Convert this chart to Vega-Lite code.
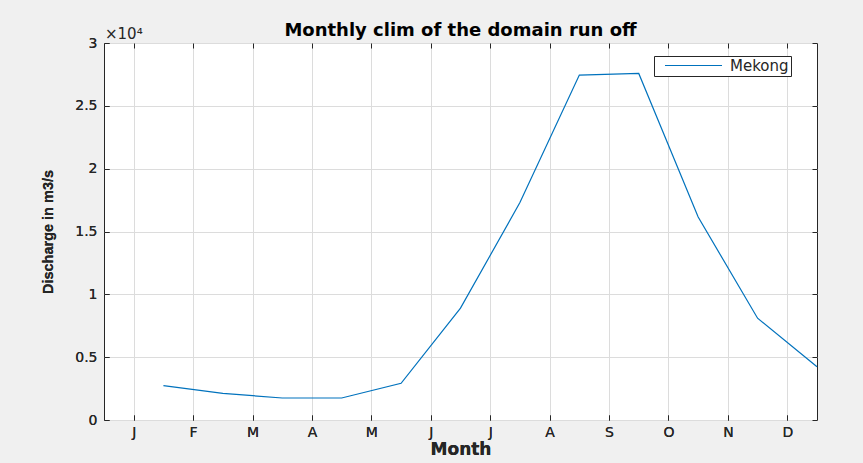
{
  "$schema": "https://vega.github.io/schema/vega-lite/v6.json",
  "width": 713,
  "height": 377,
  "autosize": {"type": "none"},
  "padding": {"left": 104, "top": 43, "right": 46, "bottom": 43},
  "background": "#f0f0f0",
  "title": {
    "text": "Monthly clim of the domain run off",
    "font": "DejaVu Sans",
    "fontSize": 18,
    "fontWeight": "bold",
    "color": "#000000",
    "anchor": "middle",
    "offset": -13
  },
  "encoding": {
    "x": {
      "field": "month",
      "type": "quantitative",
      "scale": {"domain": [0.5, 12.5], "nice": false, "zero": false},
      "axis": {
        "orient": "bottom",
        "values": [1, 2, 3, 4, 5, 6, 7, 8, 9, 10, 11, 12],
        "labelExpr": "['J','F','M','A','M','J','J','A','S','O','N','D'][datum.value - 1]",
        "title": "Month",
        "titleFont": "DejaVu Sans",
        "titleFontSize": 17,
        "titleFontWeight": "bold",
        "titlePadding": 2,
        "labelPadding": 10,
        "labelFlush": false
      }
    },
    "y": {
      "field": "discharge",
      "type": "quantitative",
      "scale": {"domain": [0, 30000], "nice": false},
      "axis": {
        "orient": "left",
        "values": [0, 5000, 10000, 15000, 20000, 25000, 30000],
        "labelExpr": "format(datum.value / 10000, '~g')",
        "title": "Discharge in m3/s",
        "titleFont": "Liberation Sans",
        "titleFontSize": 14.5,
        "titleFontWeight": "bold",
        "titlePadding": 19,
        "labelPadding": 12,
        "labelFlush": false
      }
    }
  },
  "layer": [
    {
      "data": {
        "values": [
          {"month": 1.5, "discharge": 2730, "river": "Mekong"},
          {"month": 2.5, "discharge": 2120, "river": "Mekong"},
          {"month": 3.5, "discharge": 1750, "river": "Mekong"},
          {"month": 4.5, "discharge": 1750, "river": "Mekong"},
          {"month": 5.5, "discharge": 2920, "river": "Mekong"},
          {"month": 6.5, "discharge": 8900, "river": "Mekong"},
          {"month": 7.5, "discharge": 17300, "river": "Mekong"},
          {"month": 8.5, "discharge": 27450, "river": "Mekong"},
          {"month": 9.5, "discharge": 27580, "river": "Mekong"},
          {"month": 10.5, "discharge": 16150, "river": "Mekong"},
          {"month": 11.5, "discharge": 8100, "river": "Mekong"},
          {"month": 12.5, "discharge": 4240, "river": "Mekong"}
        ]
      },
      "mark": {"type": "line", "strokeWidth": 1.2},
      "encoding": {
        "color": {
          "field": "river",
          "type": "nominal",
          "scale": {"range": ["#0072BD"]},
          "legend": {
            "title": null,
            "orient": "none",
            "legendX": 550,
            "legendY": 13,
            "symbolType": "M-5,0H5",
            "symbolSize": 130,
            "symbolStrokeWidth": 1.2,
            "symbolStrokeColor": "#0072BD",
            "symbolFillColor": "#0072BD",
            "symbolOffset": 30,
            "labelFont": "DejaVu Sans",
            "labelFontSize": 15,
            "labelColor": "#262626",
            "labelOffset": 29,
            "padding": 2,
            "strokeColor": "#262626",
            "fillColor": "#ffffff"
          }
        }
      }
    },
    {
      "data": {
        "values": [
          {"month": 1.5, "discharge": 2730},
          {"month": 12.5, "discharge": 4240}
        ]
      },
      "mark": {"type": "line", "opacity": 0},
      "encoding": {
        "x": {
          "field": "month",
          "type": "quantitative",
          "axis": {
            "orient": "top",
            "values": [1, 2, 3, 4, 5, 6, 7, 8, 9, 10, 11, 12],
            "labels": false,
            "grid": false,
            "title": null
          }
        },
        "y": {
          "field": "discharge",
          "type": "quantitative",
          "axis": {
            "orient": "right",
            "values": [0, 5000, 10000, 15000, 20000, 25000, 30000],
            "labels": false,
            "grid": false,
            "title": null
          }
        }
      }
    },
    {
      "data": {"values": [{"month": 0.5, "discharge": 30000, "label": "×10⁴"}]},
      "mark": {
        "type": "text",
        "align": "left",
        "baseline": "bottom",
        "dx": 1,
        "dy": -1,
        "font": "DejaVu Sans",
        "fontSize": 15,
        "color": "#262626"
      },
      "encoding": {"text": {"field": "label"}}
    }
  ],
  "resolve": {"axis": {"x": "independent", "y": "independent"}},
  "config": {
    "view": {"fill": "#ffffff", "stroke": "#262626", "strokeWidth": 1},
    "axis": {
      "domain": false,
      "tickColor": "#262626",
      "tickSize": -5,
      "labelColor": "#262626",
      "labelFont": "DejaVu Sans",
      "labelFontSize": 14,
      "gridColor": "#dcdcdc",
      "gridWidth": 1,
      "titleColor": "#262626"
    }
  }
}
